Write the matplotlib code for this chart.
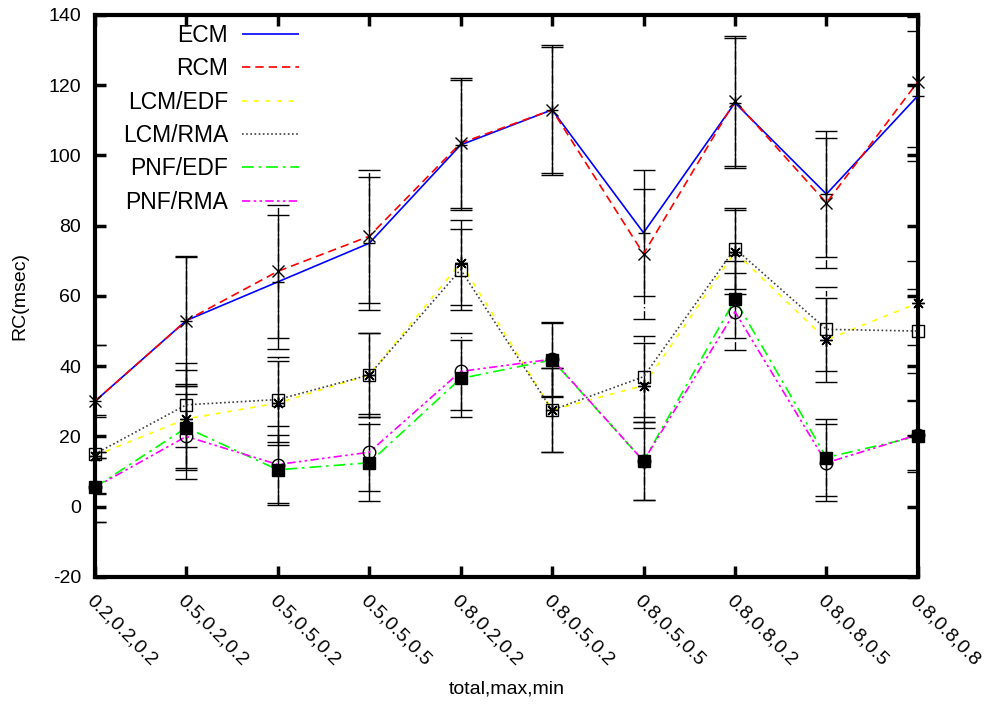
import matplotlib
matplotlib.use("Agg")
import matplotlib.pyplot as plt

plt.rcParams['font.family'] = ['Liberation Sans', 'DejaVu Sans']
plt.rcParams['axes.unicode_minus'] = False

configs = ['0.2,0.2,0.2', '0.5,0.2,0.2', '0.5,0.5,0.2', '0.5,0.5,0.5', '0.8,0.2,0.2',
           '0.8,0.5,0.2', '0.8,0.5,0.5', '0.8,0.8,0.2', '0.8,0.8,0.5', '0.8,0.8,0.8']

ecm = [30, 53, 64, 75, 103, 113, 78, 115, 89, 117]
rcm = [30, 53, 67, 77, 103.5, 113, 72, 115.5, 86.5, 121]
lcm_edf = [14.5, 25, 29.5, 37.5, 69.5, 27.5, 34.5, 72.5, 47.5, 58]
lcm_rma = [15, 29, 30.5, 37.5, 67.5, 27.5, 37, 73.5, 50.5, 50]
pnf_edf = [5.5, 22.5, 10.5, 12.5, 36.5, 41.8, 13, 59, 14, 20]
pnf_rma = [5.5, 20, 12, 15.5, 38.5, 42, 13, 55.5, 12.5, 20.5]

ecm_err = [16, 18, 19, 19, 18.5, 18, 18, 18.5, 18, 18.5]
rcm_err = [16, 18.5, 19, 19, 18.5, 18.5, 18.5, 18.5, 18.5, 18.5]
lcm_edf_err = [11, 14, 12, 12, 12, 12, 12, 12, 12, 12]
lcm_rma_err = [11, 12, 12, 12, 11.5, 12, 11.5, 11.5, 12, 12]
pnf_edf_err = [10, 12, 10, 11, 11, 10.5, 11, 11, 11, 10]
pnf_rma_err = [10, 12, 11, 11, 11, 10.5, 11, 11, 11, 10]

# name, values, errors, line colour, line dashes, marker, marker face, errorbar style
series = [
    ('ECM', ecm, ecm_err, '#0000ff', (0, ()), '+', 'black', '-'),
    ('RCM', rcm, rcm_err, '#ff0000', (0, (5, 3)), 'x', 'black', (0, (6, 2, 1, 2))),
    ('LCM/EDF', lcm_edf, lcm_edf_err, '#ffff00', (0, (3, 4)), (8, 2, 0), 'black', '-'),
    ('LCM/RMA', lcm_rma, lcm_rma_err, '#404040', (0, (1, 1.5)), 's', 'none', (0, (4, 2))),
    ('PNF/EDF', pnf_edf, pnf_edf_err, '#00ff00', (0, (7, 3, 1.5, 3)), 's', 'black', '-'),
    ('PNF/RMA', pnf_rma, pnf_rma_err, '#ff00ff', (0, (5, 2, 1.5, 2, 1.5, 2)), 'o', 'none', (0, (6, 2, 1, 2))),
]

x = list(range(len(configs)))

fig = plt.figure(figsize=(9.88, 7.14), dpi=100)
ax = fig.add_subplot(111)
fig.subplots_adjust(left=0.096, right=0.929, bottom=0.192, top=0.979)

for name, vals, err, col, dash, mk, mface, ebstyle in series:
    eb = ax.errorbar(x, vals, yerr=err, fmt='none', ecolor='black', elinewidth=1.0,
                     capsize=8, capthick=1.0, zorder=2)
    eb[2][0].set_linestyle(ebstyle)
    ax.plot(x, vals, color=col, linestyle=dash, lw=1.2, label=name, zorder=3)
    ax.plot(x, vals, linestyle='none', marker=mk, markersize=9, markeredgecolor='black',
            markerfacecolor=mface, markeredgewidth=1.0, zorder=4, clip_on=False)

ax.set_xlim(0, 9)
ax.set_ylim(-20, 140)
ax.set_yticks(range(-20, 141, 20))
ax.set_xticks(x)
ax.set_xticklabels(configs, rotation=-45, ha='left', va='top', rotation_mode='anchor')
ax.tick_params(axis='both', direction='in', length=8, width=2.5, labelsize=14,
               top=True, right=True, pad=10)
ax.tick_params(axis='x', pad=11)
for sp in ax.spines.values():
    sp.set_linewidth(3)

ax.set_ylabel('RC(msec)', fontsize=14, labelpad=14)
ax.set_xlabel('total,max,min', fontsize=14)
ax.xaxis.set_label_coords(0.5, -0.185)

leg = ax.legend(loc='upper left', bbox_to_anchor=(0.023, 1.0), frameon=False,
                markerfirst=False, fontsize=16.5, labelspacing=0.45, handlelength=2.5,
                handletextpad=0.6, borderaxespad=0.0)

fig.savefig('out.png', dpi=100)
